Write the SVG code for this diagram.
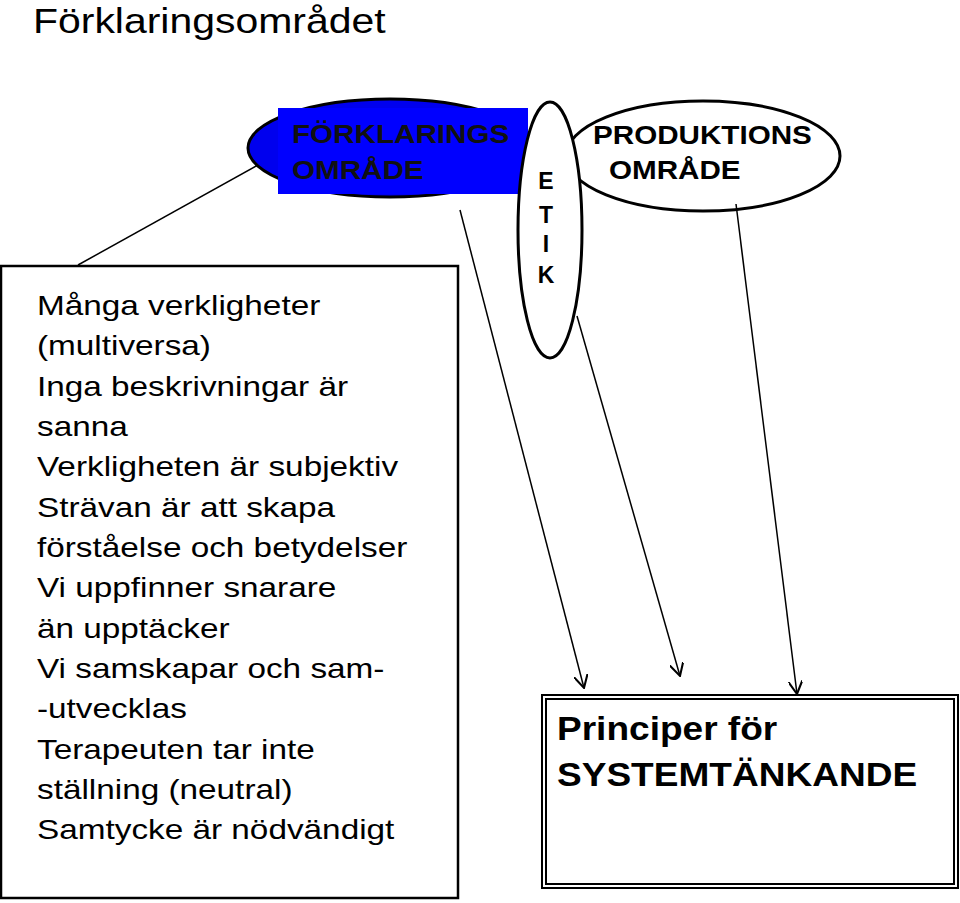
<svg xmlns="http://www.w3.org/2000/svg" width="960" height="903" viewBox="0 0 960 903">
<style>
.t{font-family:"Liberation Sans",Arial,sans-serif}
.b{font-family:"Liberation Sans",Arial,sans-serif;font-weight:bold}
.ln{stroke:#000;stroke-width:1.5;fill:none}
</style>
<defs>
<marker id="a" viewBox="0 0 12 12" refX="11" refY="6" markerWidth="14" markerHeight="14" orient="auto" markerUnits="userSpaceOnUse"><path d="M0,0 L11,6 L0,12" fill="none" stroke="#000" stroke-width="1.8"/></marker></defs>
<rect width="960" height="903" fill="#fff"/>
<text class="t" x="33" y="33" font-size="35" transform="translate(33,0) scale(1.17,1) translate(-33,0)">Förklaringsområdet</text>
<g id="forklaring">
<ellipse cx="390" cy="148" rx="142" ry="49" fill="#0000ee" stroke="#000" stroke-width="3"/>
<rect x="278" y="108" width="250" height="86" fill="#0000ff"/>
<g transform="translate(292,0) scale(1.14,1) translate(-292,0)">
<text class="b" x="292" y="143" font-size="26" fill="#111">FÖRKLARINGS</text>
<text class="b" x="292" y="179" font-size="26" fill="#111">OMRÅDE</text>
</g>
</g>
<g id="produktion">
<ellipse cx="703" cy="156" rx="137" ry="55" fill="#fff" stroke="#000" stroke-width="3"/>
<g transform="translate(593,0) scale(1.14,1) translate(-593,0)">
<text class="b" x="593" y="144" font-size="26">PRODUKTIONS</text>
<text class="b" x="607" y="179" font-size="26">OMRÅDE</text>
</g>
</g>
<g id="etik">
<ellipse cx="550" cy="230" rx="32" ry="128" fill="#fff" stroke="#000" stroke-width="3"/>
<text class="b" x="546" y="189" font-size="23" text-anchor="middle">E</text>
<text class="b" x="546" y="223" font-size="23" text-anchor="middle">T</text>
<text class="b" x="546" y="252" font-size="23" text-anchor="middle">I</text>
<text class="b" x="546" y="283" font-size="23" text-anchor="middle">K</text>
</g>
<g id="connectors">
<line class="ln" x1="78" y1="265" x2="258" y2="165"/>
<line class="ln" x1="460" y1="210" x2="584" y2="688" marker-end="url(#a)"/>
<line class="ln" x1="577" y1="316" x2="680" y2="676" marker-end="url(#a)"/>
<line class="ln" x1="736" y1="204" x2="797" y2="694" marker-end="url(#a)"/>
</g>
<g id="leftbox">
<rect x="1" y="266" width="457" height="632" fill="none" stroke="#000" stroke-width="2.5"/>
<g class="t" font-size="28" fill="#000" transform="translate(37,0) scale(1.19,1) translate(-37,0)">
<text x="37" y="315">Många verkligheter</text>
<text x="37" y="355">(multiversa)</text>
<text x="37" y="396">Inga beskrivningar är</text>
<text x="37" y="436">sanna</text>
<text x="37" y="476">Verkligheten är subjektiv</text>
<text x="37" y="517">Strävan är att skapa</text>
<text x="37" y="557">förståelse och betydelser</text>
<text x="37" y="597">Vi uppfinner snarare</text>
<text x="37" y="638">än upptäcker</text>
<text x="37" y="678">Vi samskapar och sam-</text>
<text x="37" y="718">-utvecklas</text>
<text x="37" y="759">Terapeuten tar inte</text>
<text x="37" y="799">ställning (neutral)</text>
<text x="37" y="839">Samtycke är nödvändigt</text>
</g>
</g>
<g id="principer">
<rect x="542" y="695" width="416" height="193" fill="none" stroke="#000" stroke-width="2"/>
<rect x="546" y="699" width="408" height="185" fill="none" stroke="#000" stroke-width="2"/>
<g transform="translate(557,0) scale(1.09,1) translate(-557,0)">
<text class="b" x="557" y="740" font-size="34">Principer för</text>
<text class="b" x="557" y="786" font-size="34">SYSTEMTÄNKANDE</text>
</g>
</g>
</svg>
